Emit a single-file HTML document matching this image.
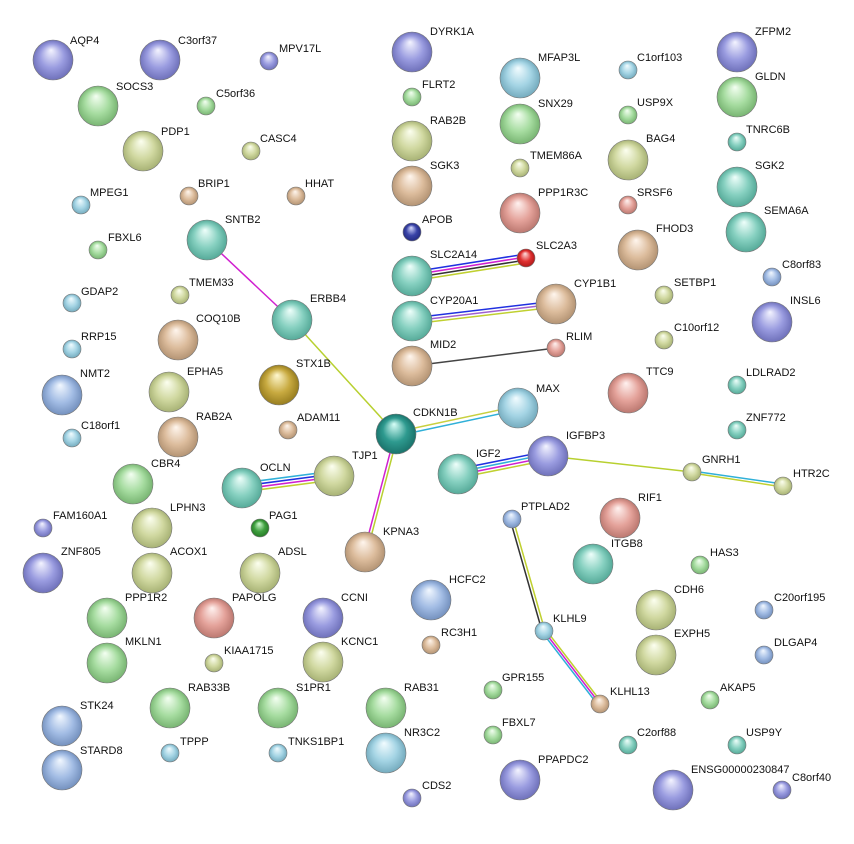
<!DOCTYPE html>
<html><head><meta charset="utf-8"><style>
html,body{margin:0;padding:0;background:#fff}
svg{display:block}
text{font-family:"Liberation Sans",sans-serif;font-size:11px;fill:#111}
circle{stroke:#777;stroke-width:.6}
</style></head><body>
<svg width="854" height="844" viewBox="0 0 854 844" xmlns="http://www.w3.org/2000/svg">
<defs>
<radialGradient id="pu" cx=".5" cy=".55" r=".6" fx=".45" fy=".25"><stop offset="0" stop-color="#f4f4ff"/><stop offset=".5" stop-color="#9a9ce0"/><stop offset="1" stop-color="#5a5ca8"/></radialGradient>
<radialGradient id="gr" cx=".5" cy=".55" r=".6" fx=".45" fy=".25"><stop offset="0" stop-color="#f4fff2"/><stop offset=".5" stop-color="#a6dca0"/><stop offset="1" stop-color="#62a25c"/></radialGradient>
<radialGradient id="ol" cx=".5" cy=".55" r=".6" fx=".45" fy=".25"><stop offset="0" stop-color="#fcfff0"/><stop offset=".5" stop-color="#d0d8a0"/><stop offset="1" stop-color="#94a060"/></radialGradient>
<radialGradient id="ta" cx=".5" cy=".55" r=".6" fx=".45" fy=".25"><stop offset="0" stop-color="#fff6ee"/><stop offset=".5" stop-color="#dcbc9c"/><stop offset="1" stop-color="#a08060"/></radialGradient>
<radialGradient id="te" cx=".5" cy=".55" r=".6" fx=".45" fy=".25"><stop offset="0" stop-color="#effffb"/><stop offset=".5" stop-color="#86d0c0"/><stop offset="1" stop-color="#3e9886"/></radialGradient>
<radialGradient id="cy" cx=".5" cy=".55" r=".6" fx=".45" fy=".25"><stop offset="0" stop-color="#f2fcff"/><stop offset=".5" stop-color="#a4d4e4"/><stop offset="1" stop-color="#5e98ac"/></radialGradient>
<radialGradient id="sa" cx=".5" cy=".55" r=".6" fx=".45" fy=".25"><stop offset="0" stop-color="#fff2f0"/><stop offset=".5" stop-color="#e4a29a"/><stop offset="1" stop-color="#a8645c"/></radialGradient>
<radialGradient id="bl" cx=".5" cy=".55" r=".6" fx=".45" fy=".25"><stop offset="0" stop-color="#f2f8ff"/><stop offset=".5" stop-color="#a2bce4"/><stop offset="1" stop-color="#5e7cac"/></radialGradient>
<radialGradient id="go" cx=".5" cy=".55" r=".6" fx=".45" fy=".25"><stop offset="0" stop-color="#fff8d0"/><stop offset=".5" stop-color="#c8aa40"/><stop offset="1" stop-color="#806810"/></radialGradient>
<radialGradient id="re" cx=".5" cy=".55" r=".6" fx=".45" fy=".25"><stop offset="0" stop-color="#ffe0e0"/><stop offset=".5" stop-color="#e03030"/><stop offset="1" stop-color="#981010"/></radialGradient>
<radialGradient id="na" cx=".5" cy=".55" r=".6" fx=".45" fy=".25"><stop offset="0" stop-color="#d8dcff"/><stop offset=".5" stop-color="#3a44a8"/><stop offset="1" stop-color="#1a2070"/></radialGradient>
<radialGradient id="dg" cx=".5" cy=".55" r=".6" fx=".45" fy=".25"><stop offset="0" stop-color="#d8ffd8"/><stop offset=".5" stop-color="#40a040"/><stop offset="1" stop-color="#1a6a1a"/></radialGradient>
<radialGradient id="dt" cx=".5" cy=".55" r=".6" fx=".45" fy=".25"><stop offset="0" stop-color="#d8fff8"/><stop offset=".5" stop-color="#2e9a8f"/><stop offset="1" stop-color="#10605a"/></radialGradient>
</defs>
<g fill="none" stroke-width="1.5">
<line x1="207" y1="240" x2="292" y2="320" stroke="#d020d0"/>
<line x1="292" y1="320" x2="396" y2="434" stroke="#b8d030"/>
<line x1="395" y1="434" x2="364" y2="552" stroke="#d020d0"/>
<line x1="398" y1="434" x2="367" y2="552" stroke="#b8d030"/>
<line x1="396" y1="432" x2="518" y2="406" stroke="#c8d040"/>
<line x1="396" y1="436" x2="518" y2="410" stroke="#30b0d8"/>
<line x1="412" y1="272" x2="526" y2="254" stroke="#2030e0"/>
<line x1="412" y1="275" x2="526" y2="257" stroke="#d020d0"/>
<line x1="412" y1="278" x2="526" y2="260" stroke="#333"/>
<line x1="412" y1="281" x2="526" y2="263" stroke="#c0d030"/>
<line x1="412" y1="318" x2="556" y2="301" stroke="#2030e0"/>
<line x1="412" y1="321" x2="556" y2="304" stroke="#a060d0"/>
<line x1="412" y1="324" x2="556" y2="307" stroke="#c0d030"/>
<line x1="412" y1="366" x2="556" y2="348" stroke="#444"/>
<line x1="242" y1="483" x2="334" y2="471" stroke="#30b0d8"/>
<line x1="242" y1="486" x2="334" y2="474" stroke="#2030e0"/>
<line x1="242" y1="489" x2="334" y2="477" stroke="#d020d0"/>
<line x1="242" y1="492" x2="334" y2="480" stroke="#c0d030"/>
<line x1="458" y1="469" x2="548" y2="451" stroke="#2030e0"/>
<line x1="458" y1="472" x2="548" y2="454" stroke="#30b0d8"/>
<line x1="458" y1="475" x2="548" y2="457" stroke="#d020d0"/>
<line x1="458" y1="478" x2="548" y2="460" stroke="#c0d030"/>
<line x1="548" y1="456" x2="692" y2="472" stroke="#b8d030"/>
<line x1="692" y1="471" x2="783" y2="484" stroke="#30b0d8"/>
<line x1="692" y1="473" x2="783" y2="487" stroke="#c0d030"/>
<line x1="510" y1="519" x2="542" y2="631" stroke="#333"/>
<line x1="513" y1="519" x2="545" y2="631" stroke="#c0d030"/>
<line x1="542" y1="632" x2="598" y2="705" stroke="#30b0d8"/>
<line x1="544" y1="631" x2="600" y2="704" stroke="#d020d0"/>
<line x1="546" y1="630" x2="602" y2="703" stroke="#c0d030"/>
</g>
<g>
<circle cx="53" cy="60" r="20" fill="url(#pu)"/><text x="70" y="44">AQP4</text>
<circle cx="160" cy="60" r="20" fill="url(#pu)"/><text x="178" y="44">C3orf37</text>
<circle cx="269" cy="61" r="9" fill="url(#pu)"/><text x="279" y="52">MPV17L</text>
<circle cx="98" cy="106" r="20" fill="url(#gr)"/><text x="116" y="90">SOCS3</text>
<circle cx="206" cy="106" r="9" fill="url(#gr)"/><text x="216" y="97">C5orf36</text>
<circle cx="143" cy="151" r="20" fill="url(#ol)"/><text x="161" y="135">PDP1</text>
<circle cx="251" cy="151" r="9" fill="url(#ol)"/><text x="260" y="142">CASC4</text>
<circle cx="81" cy="205" r="9" fill="url(#cy)"/><text x="90" y="196">MPEG1</text>
<circle cx="189" cy="196" r="9" fill="url(#ta)"/><text x="198" y="187">BRIP1</text>
<circle cx="296" cy="196" r="9" fill="url(#ta)"/><text x="305" y="187">HHAT</text>
<circle cx="207" cy="240" r="20" fill="url(#te)"/><text x="225" y="223">SNTB2</text>
<circle cx="98" cy="250" r="9" fill="url(#gr)"/><text x="108" y="241">FBXL6</text>
<circle cx="180" cy="295" r="9" fill="url(#ol)"/><text x="189" y="286">TMEM33</text>
<circle cx="72" cy="303" r="9" fill="url(#cy)"/><text x="81" y="295">GDAP2</text>
<circle cx="292" cy="320" r="20" fill="url(#te)"/><text x="310" y="302">ERBB4</text>
<circle cx="178" cy="340" r="20" fill="url(#ta)"/><text x="196" y="322">COQ10B</text>
<circle cx="72" cy="349" r="9" fill="url(#cy)"/><text x="81" y="340">RRP15</text>
<circle cx="279" cy="385" r="20" fill="url(#go)"/><text x="296" y="367">STX1B</text>
<circle cx="169" cy="392" r="20" fill="url(#ol)"/><text x="187" y="375">EPHA5</text>
<circle cx="62" cy="395" r="20" fill="url(#bl)"/><text x="80" y="377">NMT2</text>
<circle cx="178" cy="437" r="20" fill="url(#ta)"/><text x="196" y="420">RAB2A</text>
<circle cx="288" cy="430" r="9" fill="url(#ta)"/><text x="297" y="421">ADAM11</text>
<circle cx="72" cy="438" r="9" fill="url(#cy)"/><text x="81" y="429">C18orf1</text>
<circle cx="396" cy="434" r="20" fill="url(#dt)"/><text x="413" y="416">CDKN1B</text>
<circle cx="334" cy="476" r="20" fill="url(#ol)"/><text x="352" y="459">TJP1</text>
<circle cx="242" cy="488" r="20" fill="url(#te)"/><text x="260" y="471">OCLN</text>
<circle cx="133" cy="484" r="20" fill="url(#gr)"/><text x="151" y="467">CBR4</text>
<circle cx="43" cy="528" r="9" fill="url(#pu)"/><text x="53" y="519">FAM160A1</text>
<circle cx="152" cy="528" r="20" fill="url(#ol)"/><text x="170" y="511">LPHN3</text>
<circle cx="260" cy="528" r="9" fill="url(#dg)"/><text x="269" y="519">PAG1</text>
<circle cx="365" cy="552" r="20" fill="url(#ta)"/><text x="383" y="535">KPNA3</text>
<circle cx="43" cy="573" r="20" fill="url(#pu)"/><text x="61" y="555">ZNF805</text>
<circle cx="152" cy="573" r="20" fill="url(#ol)"/><text x="170" y="555">ACOX1</text>
<circle cx="260" cy="573" r="20" fill="url(#ol)"/><text x="278" y="555">ADSL</text>
<circle cx="107" cy="618" r="20" fill="url(#gr)"/><text x="125" y="601">PPP1R2</text>
<circle cx="214" cy="618" r="20" fill="url(#sa)"/><text x="232" y="601">PAPOLG</text>
<circle cx="323" cy="618" r="20" fill="url(#pu)"/><text x="341" y="601">CCNI</text>
<circle cx="323" cy="662" r="20" fill="url(#ol)"/><text x="341" y="645">KCNC1</text>
<circle cx="107" cy="663" r="20" fill="url(#gr)"/><text x="125" y="645">MKLN1</text>
<circle cx="214" cy="663" r="9" fill="url(#ol)"/><text x="224" y="654">KIAA1715</text>
<circle cx="170" cy="708" r="20" fill="url(#gr)"/><text x="188" y="691">RAB33B</text>
<circle cx="278" cy="708" r="20" fill="url(#gr)"/><text x="296" y="691">S1PR1</text>
<circle cx="62" cy="726" r="20" fill="url(#bl)"/><text x="80" y="709">STK24</text>
<circle cx="170" cy="753" r="9" fill="url(#cy)"/><text x="180" y="745">TPPP</text>
<circle cx="278" cy="753" r="9" fill="url(#cy)"/><text x="288" y="745">TNKS1BP1</text>
<circle cx="62" cy="770" r="20" fill="url(#bl)"/><text x="80" y="754">STARD8</text>
<circle cx="386" cy="708" r="20" fill="url(#gr)"/><text x="404" y="691">RAB31</text>
<circle cx="386" cy="753" r="20" fill="url(#cy)"/><text x="404" y="736">NR3C2</text>
<circle cx="412" cy="798" r="9" fill="url(#pu)"/><text x="422" y="789">CDS2</text>
<circle cx="431" cy="600" r="20" fill="url(#bl)"/><text x="449" y="583">HCFC2</text>
<circle cx="431" cy="645" r="9" fill="url(#ta)"/><text x="441" y="636">RC3H1</text>
<circle cx="493" cy="690" r="9" fill="url(#gr)"/><text x="502" y="681">GPR155</text>
<circle cx="493" cy="735" r="9" fill="url(#gr)"/><text x="502" y="726">FBXL7</text>
<circle cx="520" cy="780" r="20" fill="url(#pu)"/><text x="538" y="763">PPAPDC2</text>
<circle cx="412" cy="52" r="20" fill="url(#pu)"/><text x="430" y="35">DYRK1A</text>
<circle cx="412" cy="97" r="9" fill="url(#gr)"/><text x="422" y="88">FLRT2</text>
<circle cx="412" cy="141" r="20" fill="url(#ol)"/><text x="430" y="124">RAB2B</text>
<circle cx="412" cy="186" r="20" fill="url(#ta)"/><text x="430" y="169">SGK3</text>
<circle cx="412" cy="232" r="9" fill="url(#na)"/><text x="422" y="223">APOB</text>
<circle cx="412" cy="276" r="20" fill="url(#te)"/><text x="430" y="258">SLC2A14</text>
<circle cx="526" cy="258" r="9" fill="url(#re)"/><text x="536" y="249">SLC2A3</text>
<circle cx="412" cy="321" r="20" fill="url(#te)"/><text x="430" y="304">CYP20A1</text>
<circle cx="556" cy="304" r="20" fill="url(#ta)"/><text x="574" y="287">CYP1B1</text>
<circle cx="412" cy="366" r="20" fill="url(#ta)"/><text x="430" y="348">MID2</text>
<circle cx="556" cy="348" r="9" fill="url(#sa)"/><text x="566" y="340">RLIM</text>
<circle cx="520" cy="78" r="20" fill="url(#cy)"/><text x="538" y="61">MFAP3L</text>
<circle cx="520" cy="124" r="20" fill="url(#gr)"/><text x="538" y="107">SNX29</text>
<circle cx="520" cy="168" r="9" fill="url(#ol)"/><text x="530" y="159">TMEM86A</text>
<circle cx="520" cy="213" r="20" fill="url(#sa)"/><text x="538" y="196">PPP1R3C</text>
<circle cx="518" cy="408" r="20" fill="url(#cy)"/><text x="536" y="392">MAX</text>
<circle cx="548" cy="456" r="20" fill="url(#pu)"/><text x="566" y="439">IGFBP3</text>
<circle cx="458" cy="474" r="20" fill="url(#te)"/><text x="476" y="457">IGF2</text>
<circle cx="692" cy="472" r="9" fill="url(#ol)"/><text x="702" y="463">GNRH1</text>
<circle cx="783" cy="486" r="9" fill="url(#ol)"/><text x="793" y="477">HTR2C</text>
<circle cx="512" cy="519" r="9" fill="url(#bl)"/><text x="521" y="510">PTPLAD2</text>
<circle cx="620" cy="518" r="20" fill="url(#sa)"/><text x="638" y="501">RIF1</text>
<circle cx="593" cy="564" r="20" fill="url(#te)"/><text x="611" y="547">ITGB8</text>
<circle cx="544" cy="631" r="9" fill="url(#cy)"/><text x="553" y="622">KLHL9</text>
<circle cx="600" cy="704" r="9" fill="url(#ta)"/><text x="610" y="695">KLHL13</text>
<circle cx="628" cy="70" r="9" fill="url(#cy)"/><text x="637" y="61">C1orf103</text>
<circle cx="628" cy="115" r="9" fill="url(#gr)"/><text x="637" y="106">USP9X</text>
<circle cx="628" cy="160" r="20" fill="url(#ol)"/><text x="646" y="142">BAG4</text>
<circle cx="628" cy="205" r="9" fill="url(#sa)"/><text x="637" y="196">SRSF6</text>
<circle cx="638" cy="250" r="20" fill="url(#ta)"/><text x="656" y="232">FHOD3</text>
<circle cx="664" cy="295" r="9" fill="url(#ol)"/><text x="674" y="286">SETBP1</text>
<circle cx="664" cy="340" r="9" fill="url(#ol)"/><text x="674" y="331">C10orf12</text>
<circle cx="628" cy="393" r="20" fill="url(#sa)"/><text x="646" y="375">TTC9</text>
<circle cx="737" cy="52" r="20" fill="url(#pu)"/><text x="755" y="35">ZFPM2</text>
<circle cx="737" cy="97" r="20" fill="url(#gr)"/><text x="755" y="80">GLDN</text>
<circle cx="737" cy="142" r="9" fill="url(#te)"/><text x="746" y="133">TNRC6B</text>
<circle cx="737" cy="187" r="20" fill="url(#te)"/><text x="755" y="169">SGK2</text>
<circle cx="746" cy="232" r="20" fill="url(#te)"/><text x="764" y="214">SEMA6A</text>
<circle cx="772" cy="277" r="9" fill="url(#bl)"/><text x="782" y="268">C8orf83</text>
<circle cx="772" cy="322" r="20" fill="url(#pu)"/><text x="790" y="304">INSL6</text>
<circle cx="737" cy="385" r="9" fill="url(#te)"/><text x="746" y="376">LDLRAD2</text>
<circle cx="737" cy="430" r="9" fill="url(#te)"/><text x="746" y="421">ZNF772</text>
<circle cx="700" cy="565" r="9" fill="url(#gr)"/><text x="710" y="556">HAS3</text>
<circle cx="656" cy="610" r="20" fill="url(#ol)"/><text x="674" y="593">CDH6</text>
<circle cx="656" cy="655" r="20" fill="url(#ol)"/><text x="674" y="637">EXPH5</text>
<circle cx="764" cy="610" r="9" fill="url(#bl)"/><text x="774" y="601">C20orf195</text>
<circle cx="764" cy="655" r="9" fill="url(#bl)"/><text x="774" y="646">DLGAP4</text>
<circle cx="710" cy="700" r="9" fill="url(#gr)"/><text x="720" y="691">AKAP5</text>
<circle cx="628" cy="745" r="9" fill="url(#te)"/><text x="637" y="736">C2orf88</text>
<circle cx="737" cy="745" r="9" fill="url(#te)"/><text x="746" y="736">USP9Y</text>
<circle cx="673" cy="790" r="20" fill="url(#pu)"/><text x="691" y="773">ENSG00000230847</text>
<circle cx="782" cy="790" r="9" fill="url(#pu)"/><text x="792" y="781">C8orf40</text>
</g>
</svg>
</body></html>
